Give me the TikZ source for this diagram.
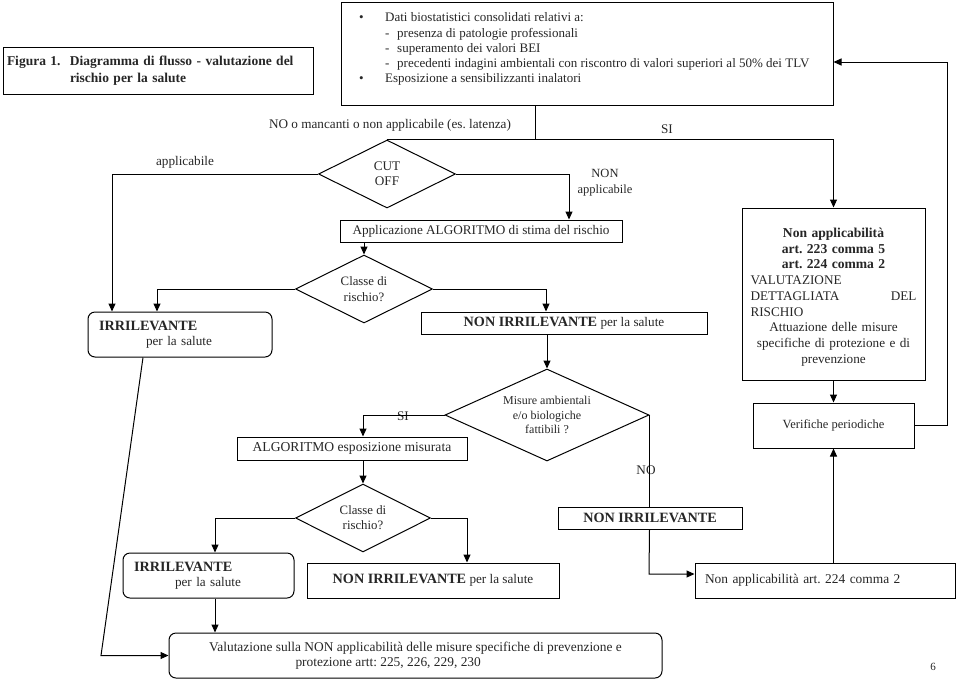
\documentclass[tikz,border=0pt]{standalone}
\usepackage{fontspec}
\setmainfont{Liberation Serif}
\usetikzlibrary{arrows.meta,shapes.geometric}
\frenchspacing
\newcommand{\bx}[1]{{\fontsize{14.2}{15}\selectfont\bfseries #1}}
\begin{document}
\begin{tikzpicture}[x=1pt,y=-1pt,
  every node/.style={font=\fontsize{13.2}{15.3}\selectfont\frenchspacing, text=black!85},
  box/.style={draw, line width=1pt, inner sep=0pt, align=center},
  rbox/.style={box, rounded corners=7pt},
  dia/.style={draw, line width=1pt, diamond, aspect=2, inner sep=0pt, align=center},
  lbl/.style={inner sep=0pt},
  arr/.style={line width=1pt, -{Triangle[length=8pt,width=7pt]}},
  ln/.style={line width=1pt}]
\useasboundingbox (0,0) rectangle (960,681);

% title
\node[box, minimum width=310, minimum height=47, text width=302, align=left,
  font=\fontsize{13.5}{16.5}\selectfont\bfseries] (title) at (158,70.5)
  {\makebox[63pt][l]{Figura 1.}Diagramma di flusso - valutazione del\\\hspace*{63pt}rischio per la salute};

% top box
\node[box, minimum width=492, minimum height=103] (topbox) at (587,53.5) {};
\node[lbl, anchor=north west, align=left, font=\fontsize{13}{15.3}\selectfont] (toptext) at (359,12.5)
  {\makebox[26pt][l]{\textbullet}Dati biostatistici consolidati relativi a:\\
   \hspace*{26pt}\makebox[12pt][l]{-}presenza di patologie professionali\\
   \hspace*{26pt}\makebox[12pt][l]{-}superamento dei valori BEI\\
   \hspace*{26pt}\makebox[12pt][l]{-}precedenti indagini ambientali con riscontro di valori superiori al 50\% dei TLV\\
   \makebox[26pt][l]{\textbullet}Esposizione a sensibilizzanti inalatori};

% labels
\node[lbl] (lnomanc) at (390,125) {NO o mancanti o non applicabile (es. latenza)};
\node[lbl] (lsi1) at (667,129) {SI};
\node[lbl] (lappl) at (185,162) {applicabile};
\node[lbl, align=center, font=\fontsize{12.5}{16}\selectfont] (lnonappl) at (605,183) {NON\\applicabile};
\node[lbl] (lsi2) at (403,416) {SI};
\node[lbl] (lno) at (646,470) {NO};

% diamonds
\node[dia, minimum width=137, minimum height=68] (cut) at (387,174) {CUT\\OFF};
\node[dia, minimum width=137, minimum height=68, font=\fontsize{12.8}{16}\selectfont] (classe1) at (364,289) {Classe di\\rischio?};
\node[dia, minimum width=204, minimum height=92, font=\fontsize{12}{14.8}\selectfont] (misure) at (547,415) {Misure ambientali\\e/o biologiche\\fattibili ?};
\node[dia, minimum width=135, minimum height=68, font=\fontsize{12.8}{15}\selectfont] (classe2) at (363,518) {Classe di\\rischio?};

% boxes
\node[box, minimum width=282, minimum height=22] (appl) at (481,231) {Applicazione ALGORITMO di stima del rischio};
\node[rbox, minimum width=184, minimum height=45, text width=162, align=left] (irr1) at (180,334.5)
  {\bx{IRRILEVANTE}\\\hspace*{47pt}per la salute};
\node[box, minimum width=286, minimum height=22] (nonirr1) at (564,323) {\bx{NON IRRILEVANTE} per la salute};
\node[box, minimum width=183, minimum height=172, text width=166, font=\fontsize{13.2}{15.75}\selectfont] (rightbox) at (833.5,294)
  {{\fontsize{13.6}{15.75}\selectfont\bfseries\rule{0pt}{15.5pt}Non applicabilità\\
   art. 223 comma 5\\
   art. 224 comma 2}\\
   \makebox[166pt][l]{VALUTAZIONE}\\
   \makebox[166pt][s]{DETTAGLIATA\hfill DEL}\\
   \makebox[166pt][l]{RISCHIO}\\
   Attuazione delle misure\\
   specifiche di protezione e di\\
   prevenzione};
\node[box, minimum width=161, minimum height=45, font=\fontsize{12.5}{15}\selectfont] (verif) at (833.5,425.5) {Verifiche periodiche};
\node[box, minimum width=230, minimum height=23, font=\fontsize{13.6}{15}\selectfont] (algo2) at (352,448.5) {ALGORITMO esposizione misurata};
\node[box, minimum width=184, minimum height=22] (nonirr3) at (650,518) {\bx{NON IRRILEVANTE}};
\node[rbox, minimum width=171, minimum height=45, text width=149, align=left] (irr2) at (208.5,575.5)
  {\bx{IRRILEVANTE}\\\hspace*{41pt}per la salute};
\node[box, minimum width=252, minimum height=35] (nonirr2) at (433,580.5) {\bx{NON IRRILEVANTE} per la salute};
\node[box, minimum width=260, minimum height=35, text width=240, align=left, font=\fontsize{13.4}{15}\selectfont] (napp224) at (825,580.5) {Non applicabilità art. 224 comma 2};
\node[rbox, minimum width=493, minimum height=45, font=\fontsize{13.4}{15}\selectfont] (bottom) at (415.5,655.5)
  {Valutazione sulla NON applicabilità delle misure specifiche di prevenzione e\\
   \makebox[240pt][l]{protezione artt: 225, 226, 229, 230}};
\node[lbl, font=\fontsize{11}{13}\selectfont] (pnum) at (933,667) {6};

% helper coordinates
\coordinate (xa) at (112,0);
\coordinate (xb) at (569,0);
\coordinate (xc) at (157,0);
\coordinate (xd) at (546,0);
\coordinate (xe) at (363,0);
\coordinate (xf) at (215,0);
\coordinate (xg) at (467,0);
\coordinate (xh) at (143,0);
\coordinate (j1) at (535,140);
\coordinate (k0) at (101,655.5);
\coordinate (k1) at (649,574);
\coordinate (k2) at (947,62);

% connectors
\draw[ln] (topbox.south -| j1) -- (j1);
\draw[arr] (cut.north) -| (rightbox.north);
\draw[arr] (cut.west) -| (irr1.north -| xa);
\draw[arr] (cut.east) -| (appl.north -| xb);
\draw[arr] (appl.south -| classe1.north) -- (classe1.north);
\draw[arr] (classe1.west) -| (irr1.north -| xc);
\draw[arr] (classe1.east) -| (nonirr1.north -| xd);
\draw[arr] (nonirr1.south -| misure.north) -- (misure.north);
\draw[arr] (misure.west) -| (algo2.north -| xe);
\draw[arr] (algo2.south -| classe2.north) -- (classe2.north);
\draw[arr] (classe2.west) -| (irr2.north -| xf);
\draw[arr] (classe2.east) -| (nonirr2.north -| xg);
\draw[arr] (irr2.south -| xf) -- (bottom.north -| xf);
\draw[arr] (irr1.south -| xh) -- (k0) -- (bottom.west);
\draw[ln] (misure.east) -- (misure.east |- nonirr3.north);
\draw[arr] (misure.east |- nonirr3.south) -- (k1) -- (k1 -| napp224.west);
\draw[arr] (verif.south |- napp224.north) -- (verif.south);
\draw[arr] (rightbox.south) -- (verif.north);
\draw[arr] (verif.east) -| (k2) -- (k2 -| topbox.east);
\end{tikzpicture}
\end{document}
